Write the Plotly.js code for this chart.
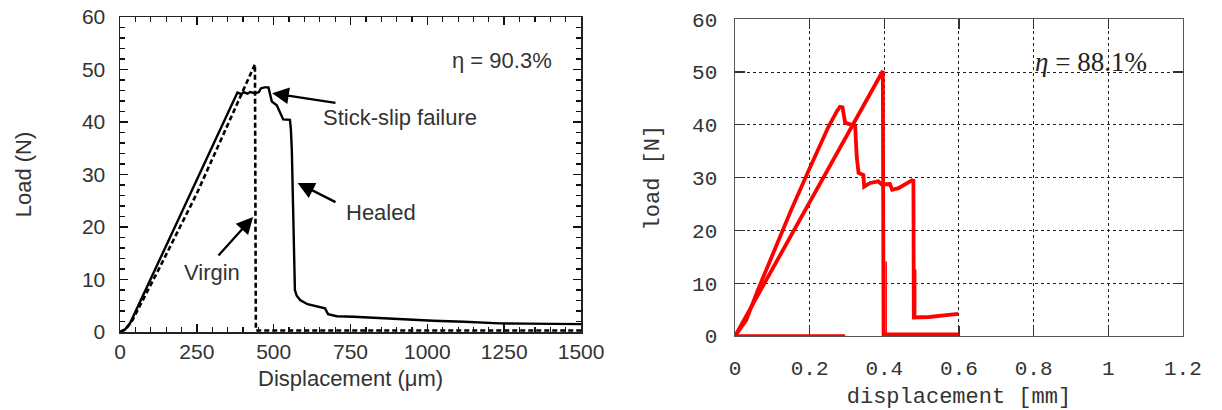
<!DOCTYPE html>
<html>
<head>
<meta charset="utf-8">
<script src="https://cdn.plot.ly/plotly-3.0.1.min.js"></script>
<style>html,body{margin:0;padding:0;background:#fff;}#chart{width:1222px;height:410px;}</style>
</head>
<body>
<div id="chart"></div>
<script>
// ---- Left panel: load vs displacement (µm) ----
const healedX = [0, 15, 33, 60, 100, 150, 200, 250, 300, 350, 382, 395, 402, 415, 423, 440, 452, 458, 470, 483, 488, 494, 510, 521, 531, 553, 556, 559, 564, 569, 575, 586, 610, 640, 651, 667, 677, 705, 760, 857, 911, 1019, 1120, 1236, 1320, 1400, 1420, 1500];
const healedY = [0, 0.4, 1.7, 5.1, 10.2, 16.5, 22.8, 29.1, 35.4, 41.7, 45.6, 45.3, 45.7, 45.4, 45.7, 45.5, 45.7, 46.4, 46.6, 46.6, 45.5, 43.9, 43.2, 41.7, 40.5, 40.4, 38.5, 34.7, 20.1, 8.0, 6.9, 6.1, 5.3, 4.8, 4.7, 4.5, 3.4, 3.0, 2.9, 2.6, 2.4, 2.15, 1.95, 1.65, 1.6, 1.55, 1.65, 1.5];
const virginX = [0, 20, 40, 130, 250, 350, 439, 442, 450, 1500];
const virginY = [0, 0.6, 2.2, 12.4, 26.4, 39.4, 51.0, 0.3, 0.3, 0.3];

// ---- Right panel: load vs displacement (mm) ----
const curveAX = [0, 0.03, 0.06, 0.1, 0.15, 0.2, 0.25, 0.273, 0.281, 0.288, 0.292, 0.295, 0.313, 0.322, 0.326, 0.331, 0.344, 0.346, 0.362, 0.384, 0.393, 0.415, 0.421, 0.438, 0.474, 0.478, 0.479, 0.52, 0.56, 0.598];
const curveAY = [0, 3.0, 8.5, 15.5, 23.8, 31.8, 39.6, 42.6, 43.4, 43.3, 41.5, 40.4, 40.0, 39.7, 34.0, 30.9, 30.5, 28.3, 29.0, 29.3, 28.7, 28.8, 27.7, 28.0, 29.5, 29.4, 3.5, 3.6, 3.9, 4.2];
const curveBX = [0, 0.085, 0.2, 0.313, 0.396, 0.398, 0.45, 0.6];
const curveBY = [0, 10.8, 25.4, 39.7, 50.2, 0.3, 0.3, 0.3];
const zeroX = [0, 0.295];
const zeroY = [0.1, 0.1];
const spike1X = [0.405, 0.405];
const spike1Y = [0, 14.1];
const spike2X = [0.484, 0.484];
const spike2Y = [3.5, 12.6];

const leftTicksX = [0, 250, 500, 750, 1000, 1250, 1500];
const leftTicksY = [0, 10, 20, 30, 40, 50, 60];
const rightTicksX = [0, 0.2, 0.4, 0.6, 0.8, 1, 1.2];
const rightTicksY = [0, 10, 20, 30, 40, 50, 60];

const sans = 'Liberation Sans, Arial, sans-serif';
const mono = 'Liberation Mono, Courier New, monospace';
const serif = 'Liberation Serif, Times New Roman, serif';

const traces = [
  {x: healedX, y: healedY, xaxis: 'x', yaxis: 'y', mode: 'lines', name: 'Healed',
   line: {color: '#000', width: 2.4}},
  {x: virginX, y: virginY, xaxis: 'x', yaxis: 'y', mode: 'lines', name: 'Virgin',
   line: {color: '#000', width: 2.6, dash: '5px,3px'}},
  {x: zeroX, y: zeroY, xaxis: 'x2', yaxis: 'y2', mode: 'lines', name: 'base',
   line: {color: '#ff0000', width: 2.2}},
  {x: curveBX, y: curveBY, xaxis: 'x2', yaxis: 'y2', mode: 'lines', name: 'B',
   line: {color: '#ff0000', width: 3.8}},
  {x: curveAX, y: curveAY, xaxis: 'x2', yaxis: 'y2', mode: 'lines', name: 'A',
   line: {color: '#ff0000', width: 3.8}},
  {x: spike1X, y: spike1Y, xaxis: 'x2', yaxis: 'y2', mode: 'lines', name: 's1',
   line: {color: '#ff0000', width: 1.5}},
  {x: spike2X, y: spike2Y, xaxis: 'x2', yaxis: 'y2', mode: 'lines', name: 's2',
   line: {color: '#ff0000', width: 1.5}}
];

const arrowStyle = {showarrow: true, arrowhead: 2, arrowsize: 1.45, arrowwidth: 2.3, arrowcolor: '#000', text: '', axref: 'x', ayref: 'y', xref: 'x', yref: 'y'};

const layout = {
  width: 1222, height: 410,
  margin: {l: 0, r: 0, t: 0, b: 0},
  paper_bgcolor: '#fff', plot_bgcolor: '#fff',
  showlegend: false,
  xaxis: {
    domain: [0.0982, 0.4755], anchor: 'y', range: [0, 1500],
    tickmode: 'linear', tick0: leftTicksX[0], dtick: leftTicksX[1] - leftTicksX[0],
    ticks: 'inside', ticklen: 8, tickwidth: 1.5, tickcolor: '#111',
    minor: {tickmode: 'linear', tick0: 0, dtick: 50, ticks: 'inside', ticklen: 5, tickcolor: '#111', tickwidth: 1.2, showgrid: false},
    mirror: 'allticks', showline: true, linecolor: '#222', linewidth: 1.5,
    showgrid: false, zeroline: false,
    tickfont: {family: sans, size: 21, color: '#333'},
    title: {text: 'Displacement (μm)', font: {family: sans, size: 22, color: '#333'}, standoff: 9}
  },
  yaxis: {
    domain: [0.1902, 0.9585], anchor: 'x', range: [0, 60],
    tickmode: 'linear', tick0: leftTicksY[0], dtick: leftTicksY[1] - leftTicksY[0],
    ticks: 'inside', ticklen: 8, tickwidth: 1.5, tickcolor: '#111',
    minor: {tickmode: 'linear', tick0: 0, dtick: 2, ticks: 'inside', ticklen: 5, tickcolor: '#111', tickwidth: 1.2, showgrid: false},
    mirror: 'allticks', showline: true, linecolor: '#222', linewidth: 1.5,
    showgrid: false, zeroline: false, ticklabelstandoff: 9,
    tickfont: {family: sans, size: 21, color: '#333'},
    title: {text: 'Load (N)', font: {family: sans, size: 22, color: '#333'}, standoff: 44}
  },
  xaxis2: {
    domain: [0.6015, 0.968], anchor: 'y2', range: [0, 1.2],
    tickvals: rightTicksX, ticktext: rightTicksX.map(String),
    ticks: 'inside', ticklen: 10, tickwidth: 1.2, tickcolor: '#333',
    mirror: 'allticks', showline: true, linecolor: '#555', linewidth: 1.5,
    showgrid: true, gridcolor: '#222', griddash: 'dot', gridwidth: 1,
    zeroline: false, ticklabelstandoff: 12, layer: 'below traces',
    tickfont: {family: mono, size: 21, color: '#333'},
    title: {text: 'displacement [mm]', font: {family: mono, size: 22, color: '#333'}, standoff: 10}
  },
  yaxis2: {
    domain: [0.1805, 0.9529], anchor: 'x2', range: [0, 60],
    tickvals: rightTicksY, ticktext: rightTicksY.map(String),
    ticks: 'inside', ticklen: 10, tickwidth: 1.2, tickcolor: '#333',
    mirror: 'allticks', showline: true, linecolor: '#555', linewidth: 1.5,
    showgrid: true, gridcolor: '#222', griddash: 'dot', gridwidth: 1,
    zeroline: false, ticklabelstandoff: 12, layer: 'below traces',
    tickfont: {family: mono, size: 21, color: '#333'},
    title: {text: 'load [N]', font: {family: mono, size: 22, color: '#333'}, standoff: 26}
  },
  annotations: [
    {xref: 'x', yref: 'y', x: 1243, y: 51.8, text: 'η = 90.3%', showarrow: false,
     font: {family: sans, size: 22, color: '#333'}},
    {xref: 'x', yref: 'y', x: 911, y: 40.8, text: 'Stick-slip failure', showarrow: false,
     font: {family: sans, size: 22, color: '#333'}},
    {xref: 'x', yref: 'y', x: 849, y: 22.7, text: 'Healed', showarrow: false,
     font: {family: sans, size: 22, color: '#333'}},
    {xref: 'x', yref: 'y', x: 299, y: 11.4, text: 'Virgin', showarrow: false,
     font: {family: sans, size: 22, color: '#333'}},
    Object.assign({x: 495, y: 45.5, ax: 706, ay: 43.6}, arrowStyle),
    Object.assign({x: 578, y: 28.4, ax: 706, ay: 24.6}, arrowStyle),
    Object.assign({x: 433, y: 21.9, ax: 316, ay: 14.3}, arrowStyle),
    {xref: 'x2', yref: 'y2', x: 0.954, y: 52, text: '<i>η</i> = 88.1%', showarrow: false,
     font: {family: serif, size: 27, color: '#222'}}
  ]
};

Plotly.newPlot('chart', traces, layout, {displayModeBar: false, staticPlot: true});
</script>
</body>
</html>
